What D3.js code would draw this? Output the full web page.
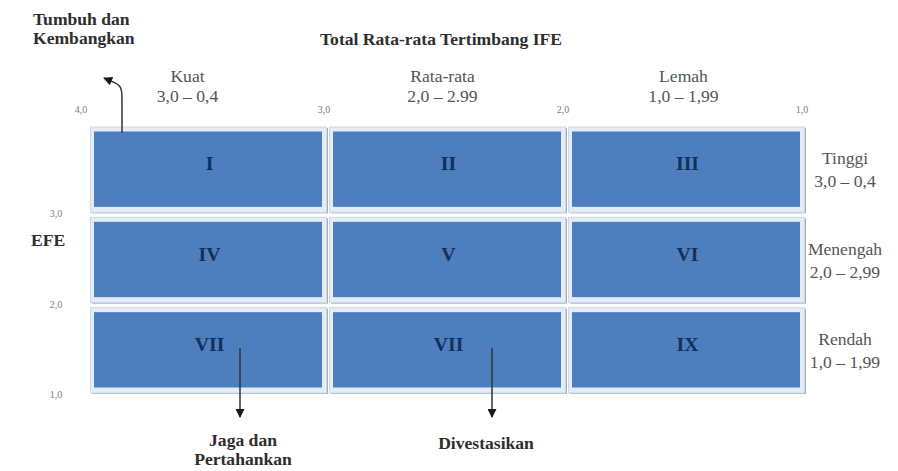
<!DOCTYPE html>
<html><head><meta charset="utf-8">
<script src="https://cdn.jsdelivr.net/npm/d3@7"></script>
<style>body{margin:0;background:#fff}svg{display:block}</style>
</head><body><svg id="c" width="898" height="471"></svg>
<script>
// IFE columns (left to right) and EFE rows (top to bottom)
const ifeBounds = [4, 3, 2, 1];
const ifeTickLabels = ["4,0", "3,0", "2,0", "1,0"];
const ifeCategories = ["Kuat", "Rata-rata", "Lemah"];
const ifeRanges = ["3,0 – 0,4", "2,0 – 2.99", "1,0 – 1,99"];
const efeBounds = [4, 3, 2, 1];
const efeTickLabels = ["", "3,0", "2,0", "1,0"];
const efeCategories = ["Tinggi", "Menengah", "Rendah"];
const efeRanges = ["3,0 – 0,4", "2,0  – 2,99", "1,0 – 1,99"];
const cellLabels = [["I", "II", "III"], ["IV", "V", "VI"], ["VII", "VII", "IX"]];
const title = "Total Rata-rata Tertimbang IFE";
const yTitle = "EFE";
const strategyUp = ["Tumbuh dan", "Kembangkan"];
const strategyHold = ["Jaga dan", "Pertahankan"];
const strategyDivest = ["Divestasikan"];

const FONT = "'Liberation Serif', 'Times New Roman', 'DejaVu Serif', serif";
const SX = 1.1; // reference text is slightly stretched horizontally

const svg = d3.select("#c").attr("font-family", FONT);
const x = d3.scaleLinear().domain([4, 1]).range([90, 807]);
const y = d3.scaleLinear().domain([4, 1]).range([124, 395]);

function txt(str, px, py, opts = {}) {
  return svg.append("text")
    .attr("transform", `translate(${px},${py}) scale(${opts.sx ?? SX},1)`)
    .attr("text-anchor", opts.anchor || "middle")
    .attr("font-size", opts.size || 16)
    .attr("font-weight", opts.bold ? "bold" : null)
    .attr("fill", opts.fill || (opts.bold ? "#2e2e2e" : "#555"))
    .text(str);
}

const cells = [];
for (let r = 0; r < 3; r++) for (let c = 0; c < 3; c++) {
  cells.push({r, c, label: cellLabels[r][c],
    x0: x(ifeBounds[c]), x1: x(ifeBounds[c + 1]),
    y0: y(efeBounds[r]), y1: y(efeBounds[r + 1])});
}

const g = svg.append("g");
g.selectAll("rect.sh").data(cells).join("rect").attr("class", "sh")
  .attr("x", d => d.x0 + 2).attr("y", d => d.y0 + 4)
  .attr("width", d => d.x1 - d.x0 - 3).attr("height", d => d.y1 - d.y0 - 5)
  .attr("fill", "#a9acb0");
g.selectAll("rect.fr").data(cells).join("rect").attr("class", "fr")
  .attr("x", d => d.x0 + 0.5).attr("y", d => d.y0 + 3)
  .attr("width", d => d.x1 - d.x0 - 3).attr("height", d => d.y1 - d.y0 - 5)
  .attr("fill", "#e4ecf6").attr("stroke", "#cbd8ea").attr("stroke-width", 1);
g.selectAll("rect.bl").data(cells).join("rect").attr("class", "bl")
  .attr("x", d => d.x0 + 4).attr("y", d => d.y0 + 7.5)
  .attr("width", d => d.x1 - d.x0 - 11).attr("height", d => d.y1 - d.y0 - 15)
  .attr("fill", "#4d7fbf");
cells.forEach(d => txt(d.label, (d.x0 + d.x1) / 2, (d.y0 + d.y1) / 2 + 1,
  {size: 18, bold: true, fill: "#14305a"}));

// ticks
ifeBounds.forEach((d, i) => txt(ifeTickLabels[i], x(d) - (i === 0 ? 9 : 5), 113,
  {size: 10, fill: "#7a7a7a", sx: 1}));
efeBounds.forEach((d, i) => txt(efeTickLabels[i], 56, y(d) + 3,
  {size: 10, fill: "#7a7a7a", sx: 1}));

// column headers
const headOff = [-22, -6, -4];
ifeCategories.forEach((cat, i) => {
  const cx = (x(ifeBounds[i]) + x(ifeBounds[i + 1])) / 2 + headOff[i];
  txt(cat, cx, 82);
  txt(ifeRanges[i], cx, 102);
});
// row headers
efeCategories.forEach((cat, i) => {
  const cy = (y(efeBounds[i]) + y(efeBounds[i + 1])) / 2;
  txt(cat, 845, cy - 5);
  txt(efeRanges[i], 845, cy + 18);
});

txt(title, 441, 45, {bold: true});
txt(yTitle, 31, 246, {bold: true, anchor: "start"});

function multiline(lines, cx, y0, anchor) {
  lines.forEach((t, i) => txt(t, cx, y0 + i * 19, {bold: true, anchor}));
}
multiline(strategyUp, 33, 25, "start");
multiline(strategyHold, 243, 446, "middle");
multiline(strategyDivest, 486, 449, "middle");

const defs = svg.append("defs");
defs.append("marker").attr("id", "ah").attr("viewBox", "0 0 10 10").attr("refX", 9).attr("refY", 5)
  .attr("markerWidth", 10).attr("markerHeight", 9).attr("orient", "auto-start-reverse")
  .attr("markerUnits", "userSpaceOnUse")
  .append("path").attr("d", "M0,0L10,5L0,10Z").attr("fill", "#1a1a1a");
const line = d3.line().curve(d3.curveBasis);
svg.append("path").attr("d", line([[122, 133], [122, 110], [122, 92], [121, 85], [104, 78]]))
  .attr("fill", "none").attr("stroke", "#333").attr("stroke-width", 1.5).attr("marker-end", "url(#ah)");
svg.append("path").attr("d", d3.line()([[240, 348], [240, 417]]))
  .attr("fill", "none").attr("stroke", "#333").attr("stroke-width", 1.5).attr("marker-end", "url(#ah)");
svg.append("path").attr("d", d3.line()([[492, 348], [492, 417]]))
  .attr("fill", "none").attr("stroke", "#333").attr("stroke-width", 1.5).attr("marker-end", "url(#ah)");
</script></body></html>
